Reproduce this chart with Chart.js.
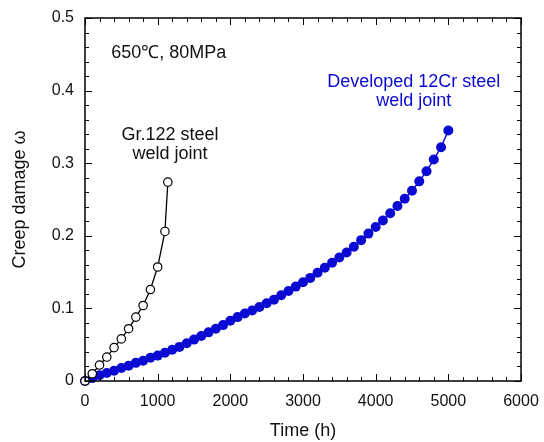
<!DOCTYPE html>
<html>
<head>
    <title>Creep damage</title>
    <script src="https://cdn.jsdelivr.net/npm/chart.js"></script>
    <style>
        body { margin: 0; background: #fff; }
    </style>
</head>
<body>
    <canvas id="creepChart" width="544" height="442"></canvas>

    <script>
        // Gr.122 steel weld joint (open circles)
        const grTimes = [0, 100, 200, 300, 400, 500, 600, 700, 800, 900, 1000, 1100, 1140];
        const grDamage = [0, 0.010, 0.022, 0.033, 0.046, 0.058, 0.072, 0.088, 0.104, 0.126, 0.157, 0.206, 0.274];

        // Developed 12Cr steel weld joint (filled blue circles), every 100 h
        const crTimes = [
            0, 100, 200, 300, 400, 500, 600, 700, 800, 900,
            1000, 1100, 1200, 1300, 1400, 1500, 1600, 1700, 1800, 1900,
            2000, 2100, 2200, 2300, 2400, 2500, 2600, 2700, 2800, 2900,
            3000, 3100, 3200, 3300, 3400, 3500, 3600, 3700, 3800, 3900,
            4000, 4100, 4200, 4300, 4400, 4500, 4600, 4700, 4800, 4900, 5000
        ];
        const crDamage = [
            0, 0.004, 0.008, 0.011, 0.014, 0.018, 0.021, 0.025, 0.028, 0.032,
            0.035, 0.039, 0.043, 0.047, 0.052, 0.057, 0.062, 0.067, 0.072, 0.077,
            0.083, 0.088, 0.093, 0.097, 0.102, 0.107, 0.112, 0.118, 0.124, 0.130,
            0.136, 0.142, 0.149, 0.156, 0.163, 0.170, 0.177, 0.185, 0.194, 0.203,
            0.212, 0.221, 0.231, 0.241, 0.251, 0.262, 0.275, 0.289, 0.305, 0.322, 0.345
        ];

        const xTicks = [0, 1000, 2000, 3000, 4000, 5000, 6000];
        const yTicks = [0, 0.1, 0.2, 0.3, 0.4, 0.5];

        const textFont = '18px "Liberation Sans", Arial, sans-serif';
        const blue = '#0a0ad2';

        // frame with inward major/minor ticks on all four sides, plus the text notes
        const framePlugin = {
            id: 'frame',
            afterDraw(chart) {
                const ctx = chart.ctx;
                const a = chart.chartArea;
                const xs = chart.scales.x;
                const ys = chart.scales.y;
                ctx.save();
                ctx.strokeStyle = '#000';
                ctx.lineWidth = 1.5;
                ctx.strokeRect(a.left, a.top, a.right - a.left, a.bottom - a.top);
                ctx.lineWidth = 1;
                ctx.beginPath();
                for (let v = 0; v <= 6000; v += 200) {
                    const px = Math.round(xs.getPixelForValue(v)) + 0.5;
                    const len = v % 1000 === 0 ? 7 : 4;
                    ctx.moveTo(px, a.bottom); ctx.lineTo(px, a.bottom - len);
                    ctx.moveTo(px, a.top); ctx.lineTo(px, a.top + len);
                }
                for (let i = 0; i <= 25; i++) {
                    const py = Math.round(ys.getPixelForValue(i * 0.02)) + 0.5;
                    const len = i % 5 === 0 ? 7 : 4;
                    ctx.moveTo(a.left, py); ctx.lineTo(a.left + len, py);
                    ctx.moveTo(a.right, py); ctx.lineTo(a.right - len, py);
                }
                ctx.stroke();

                ctx.font = textFont;
                ctx.textBaseline = 'middle';
                ctx.fillStyle = '#111';
                ctx.textAlign = 'left';
                ctx.fillText('650\u2103, 80MPa', xs.getPixelForValue(360), ys.getPixelForValue(0.452));
                ctx.textAlign = 'center';
                ctx.fillText('Gr.122 steel', xs.getPixelForValue(1170), ys.getPixelForValue(0.339));
                ctx.fillText('weld joint', xs.getPixelForValue(1170), ys.getPixelForValue(0.313));
                ctx.fillStyle = blue;
                ctx.fillText('Developed 12Cr steel', xs.getPixelForValue(4525), ys.getPixelForValue(0.412));
                ctx.fillText('weld joint', xs.getPixelForValue(4525), ys.getPixelForValue(0.385));
                ctx.restore();
            }
        };

        const ctx = document.getElementById('creepChart').getContext('2d');
        const creepChart = new Chart(ctx, {
            type: 'line',
            data: {
                datasets: [{
                    label: 'Developed 12Cr steel weld joint',
                    data: crTimes.map((t, i) => ({ x: t, y: crDamage[i] })),
                    borderColor: blue,
                    borderWidth: 1.5,
                    backgroundColor: blue,
                    pointRadius: 5,
                    pointBorderWidth: 0,
                    pointBackgroundColor: blue,
                    fill: false,
                    clip: false,
                    order: 2
                }, {
                    label: 'Gr.122 steel weld joint',
                    data: grTimes.map((t, i) => ({ x: t, y: grDamage[i] })),
                    borderColor: '#000',
                    borderWidth: 1.3,
                    pointRadius: 4.2,
                    pointBorderWidth: 1.2,
                    pointBorderColor: '#000',
                    pointBackgroundColor: '#fff',
                    fill: false,
                    clip: false,
                    order: 1
                }]
            },
            options: {
                responsive: false,
                animation: false,
                layout: { padding: { left: 0, right: 23, top: 18, bottom: 0 } },
                plugins: {
                    legend: { display: false },
                    tooltip: { enabled: false }
                },
                scales: {
                    x: {
                        type: 'linear',
                        min: 0,
                        max: 6000,
                        afterBuildTicks: scale => { scale.ticks = xTicks.map(v => ({ value: v })); },
                        afterFit: scale => {
                            scale.height = 61;
                            scale.paddingLeft = 0;
                            scale.paddingRight = 0;
                        },
                        grid: { display: false, drawTicks: false },
                        border: { display: false },
                        ticks: {
                            padding: 11,
                            color: '#111',
                            maxRotation: 0,
                            callback: v => String(v),
                            font: { family: '"Liberation Sans", Arial, sans-serif', size: 16 }
                        },
                        title: {
                            display: true,
                            text: 'Time (h)',
                            color: '#111',
                            padding: { top: 0, bottom: 0 },
                            font: { family: '"Liberation Sans", Arial, sans-serif', size: 18 }
                        }
                    },
                    y: {
                        min: 0,
                        max: 0.5,
                        afterBuildTicks: scale => { scale.ticks = yTicks.map(v => ({ value: v })); },
                        afterFit: scale => {
                            scale.width = 85;
                            scale.paddingTop = 0;
                            scale.paddingBottom = 0;
                        },
                        grid: { display: false, drawTicks: false },
                        border: { display: false },
                        ticks: {
                            padding: 11,
                            color: '#111',
                            callback: v => String(Math.round(v * 10) / 10),
                            font: { family: '"Liberation Sans", Arial, sans-serif', size: 16 }
                        },
                        title: {
                            display: true,
                            text: 'Creep damage \u03c9',
                            color: '#111',
                            padding: { top: 9, bottom: 0 },
                            font: { family: '"Liberation Sans", Arial, sans-serif', size: 18 }
                        }
                    }
                }
            },
            plugins: [framePlugin]
        });
    </script>
</body>
</html>
